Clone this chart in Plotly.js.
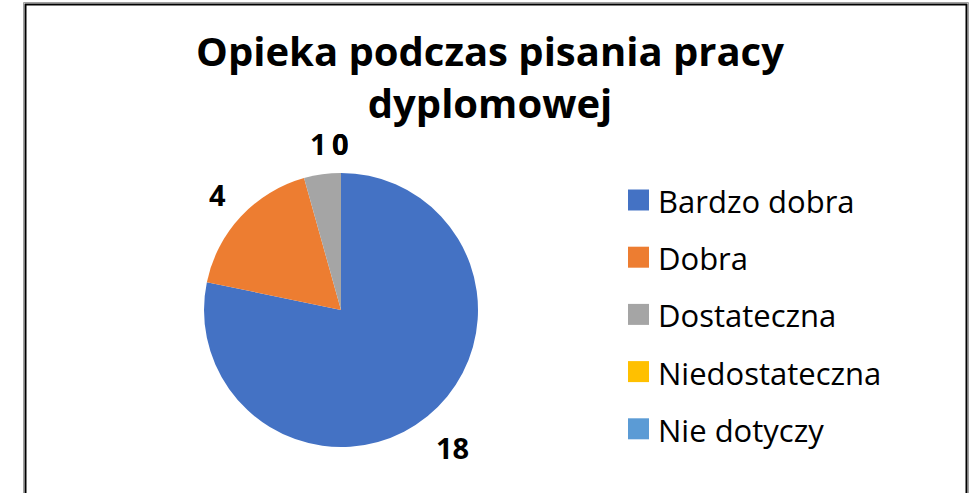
<!DOCTYPE html>
<html>
<head>
<meta charset="utf-8">
<script src="https://cdn.plot.ly/plotly-3.0.1.min.js"></script>
<style>
  html, body { margin: 0; padding: 0; background: #fff; }
  #chart { width: 977px; height: 493px; }
</style>
</head>
<body>
<div id="chart"></div>
<script>
const categories = ["Bardzo dobra", "Dobra", "Dostateczna", "Niedostateczna", "Nie dotyczy"];
const counts = [18, 4, 1, 0, 0];
const sliceColors = ["#4472C4", "#ED7D31", "#A5A5A5", "#FFC000", "#5B9BD5"];
const chartTitle = "Opieka podczas pisania pracy<br>dyplomowej";

const W = 977, H = 493;
const px = x => x / W;
const py = y => 1 - y / H;

const FONT = "'Open Sans', sans-serif";
const LABEL_SIZE = 29;

// pie geometry (pixels)
const CX = 341, CY = 310, R = 137;

const pie = {
  type: "pie",
  labels: categories,
  values: counts,
  sort: false,
  direction: "clockwise",
  rotation: 0,
  marker: { colors: sliceColors, line: { width: 0 } },
  textinfo: "none",
  showlegend: false,
  hoverinfo: "label+value",
  domain: { x: [px(CX - R), px(CX + R)], y: [py(CY + R), py(CY - R)] }
};

const shapes = [];
const annotations = [];

// data labels outside each slice, at the slice's mid-angle (from cumulative counts)
const total = counts.reduce((a, b) => a + b, 0);
let cum = 0;
counts.forEach((v, i) => {
  const midFrac = (cum + v / 2) / total;
  cum += v;
  const ang = midFrac * 2 * Math.PI;
  const s = Math.sin(ang), c = Math.cos(ang);
  const txt = String(v);
  const hw = 0.29 * LABEL_SIZE * txt.length, hh = 14;
  const ext = hw * Math.abs(s) + hh * Math.abs(c);
  const rr = R + 10 + 1.4 * ext;
  annotations.push({
    xref: "paper", yref: "paper",
    x: px(CX + rr * s), y: py(CY - rr * c),
    xanchor: "center", yanchor: "middle", showarrow: false,
    text: txt, font: { family: FONT, size: LABEL_SIZE, color: "#000", weight: "bold" }
  });
});

// legend drawn from categories/colours
const legTop = 200, legStep = 57.2;
categories.forEach((c, i) => {
  const yc = legTop + i * legStep;
  shapes.push({
    type: "rect", xref: "paper", yref: "paper",
    x0: px(628), x1: px(649), y0: py(yc + 10.5), y1: py(yc - 10.5),
    fillcolor: sliceColors[i], line: { width: 0 }
  });
  annotations.push({
    xref: "paper", yref: "paper", x: px(656), y: py(yc + 1),
    xanchor: "left", yanchor: "middle", showarrow: false,
    text: c, font: { family: FONT, size: 31, color: "#000" }
  });
});

// chart frame
shapes.push({
  type: "rect", xref: "paper", yref: "paper",
  x0: px(23.5), x1: px(968.5), y0: -0.1, y1: py(2.5),
  line: { color: "#A0A0A0", width: 1 }, fillcolor: "rgba(0,0,0,0)"
});
shapes.push({
  type: "rect", xref: "paper", yref: "paper",
  x0: px(25.5), x1: px(966.5), y0: -0.1, y1: py(4.5),
  line: { color: "#000", width: 2 }, fillcolor: "rgba(0,0,0,0)"
});

const layout = {
  width: W, height: H,
  margin: { l: 0, r: 0, t: 0, b: 0 },
  paper_bgcolor: "#fff",
  plot_bgcolor: "#fff",
  title: {
    text: chartTitle,
    x: px(490), xanchor: "center",
    y: py(66), yanchor: "top", yref: "container",
    font: { family: FONT, size: 40, color: "#000", weight: "bold" }
  },
  showlegend: false,
  shapes: shapes,
  annotations: annotations
};

Plotly.newPlot("chart", [pie], layout, { displayModeBar: false, responsive: false });
</script>
</body>
</html>
